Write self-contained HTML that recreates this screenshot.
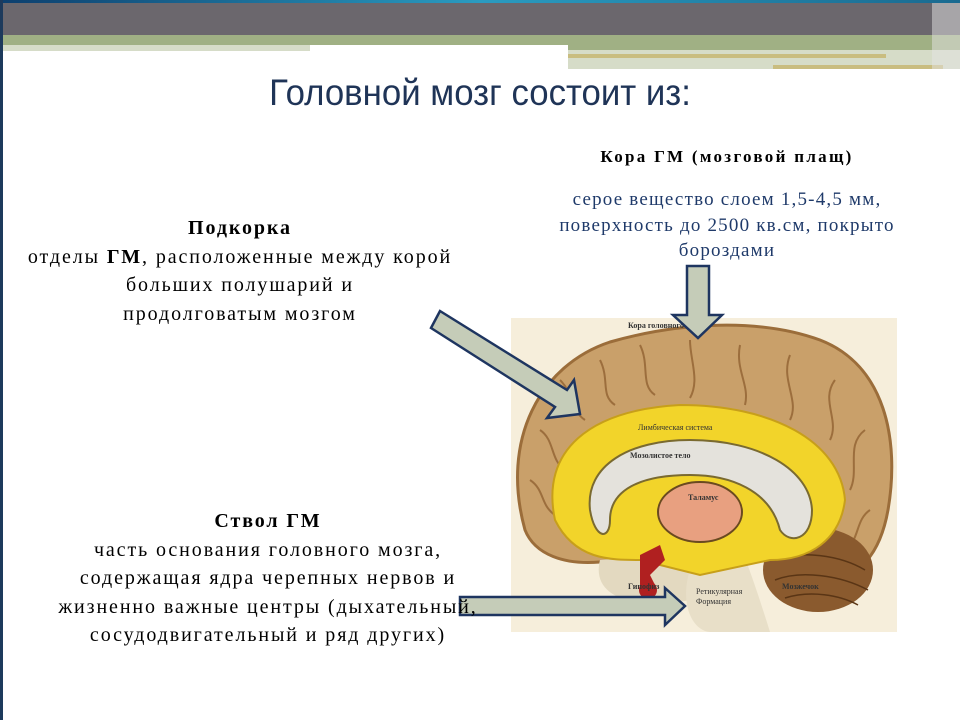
<!DOCTYPE html>
<html><head><meta charset="utf-8"><style>
body{margin:0;width:960px;height:720px;overflow:hidden;background:#fff;position:relative;font-family:"Liberation Serif",serif}
.t{position:absolute;text-align:center;color:#000;font-size:20px;line-height:28.5px;white-space:nowrap;letter-spacing:1.9px}
.b{color:#1f3a6a}
</style></head><body>
<svg width="960" height="720" style="position:absolute;left:0;top:0">
<defs><linearGradient id="tg" x1="0" x2="1"><stop offset="0" stop-color="#0d3f6e"/><stop offset=".5" stop-color="#2a9bc0"/><stop offset="1" stop-color="#1a6a90"/></linearGradient></defs>
<rect x="0" y="0" width="960" height="4" fill="url(#tg)"/>
<rect x="0" y="3" width="960" height="32" fill="#6b676d"/>
<rect x="0" y="35" width="960" height="10" fill="#a0b084"/>
<rect x="0" y="45" width="310" height="6" fill="#d6dcc8"/>
<rect x="568" y="45" width="392" height="24" fill="#d6dcc8"/>
<rect x="568" y="45" width="392" height="5" fill="#a0b084"/>
<rect x="568" y="54" width="318" height="4" fill="#c9bd80"/>
<rect x="773" y="65" width="170" height="4" fill="#c9bd80"/>
<rect x="932" y="3" width="28" height="66" fill="#e4e4e4" opacity=".5"/>
<rect x="0" y="0" width="3" height="720" fill="#1d3a5c"/>
<rect x="511" y="318" width="386" height="314" fill="#f6eedb"/>
<path d="M525 530 C500 440 540 365 610 342 C680 322 760 318 820 340 C885 365 900 440 888 510 C880 555 858 578 830 578 C800 582 770 562 740 548 L600 562 C565 565 535 555 525 530Z" fill="#c9a06a" stroke="#9b6d3a" stroke-width="3"/>
<g fill="none" stroke="#8a5a2a" stroke-width="2" opacity=".7">
<path d="M560 380 C575 395 570 410 585 420"/><path d="M600 360 C610 380 600 395 615 405"/>
<path d="M640 345 C650 365 640 385 655 395"/><path d="M690 340 C690 360 700 380 690 398"/>
<path d="M740 345 C735 370 750 385 745 405"/><path d="M790 355 C780 380 800 400 790 420"/>
<path d="M835 380 C820 400 840 420 830 440"/><path d="M865 430 C845 445 860 470 850 490"/>
<path d="M540 430 C555 440 550 460 565 470"/><path d="M530 480 C545 490 540 505 555 515"/>
<path d="M870 510 C855 520 860 540 845 550"/>
</g>
<ellipse cx="818" cy="570" rx="55" ry="42" fill="#8a5a2e"/>
<g stroke="#5a3515" stroke-width="1.5" fill="none"><path d="M775 560 C800 550 840 555 865 570"/><path d="M775 580 C800 570 840 575 868 590"/><path d="M785 598 C810 590 840 595 858 605"/></g>
<path d="M600 560 C590 600 640 610 690 600 L720 590 L720 550Z" fill="#e3d9c0"/>
<path d="M690 570 C680 600 690 630 710 632 L770 632 C760 600 750 570 740 545Z" fill="#e8dfc8"/>
<path d="M555 520 C540 450 590 410 680 405 C770 405 840 440 845 500 C840 540 810 560 770 560 L700 575 L640 560 C610 560 575 560 555 520Z" fill="#f2d42a" stroke="#c79f1a" stroke-width="2"/>
<path d="M590 510 C585 465 630 440 690 440 C760 440 810 470 812 510 C812 540 790 545 780 530 C770 490 730 475 690 475 C640 475 610 490 610 520 C610 540 595 540 590 510Z" fill="#e4e2dc" stroke="#7a6a30" stroke-width="2"/>
<ellipse cx="700" cy="512" rx="42" ry="30" fill="#e8a080" stroke="#6a4a20" stroke-width="2"/>
<path d="M640 555 L660 545 L665 560 L650 575 L655 585 L640 590Z" fill="#b02020"/>
<circle cx="648" cy="590" r="9" fill="#b02020"/>
<g font-family="Liberation Serif" font-size="8" font-weight="bold" fill="#333">
<text x="628" y="328">Кора головного мозга</text><text x="638" y="430" font-weight="normal">Лимбическая система</text>
<text x="630" y="458">Мозолистое тело</text><text x="688" y="500">Таламус</text>
<text x="628" y="589">Гипофиз</text><text x="696" y="594" font-weight="normal">Ретикулярная</text><text x="696" y="604" font-weight="normal">Формация</text><text x="782" y="589">Мозжечок</text>
</g>
</svg>
<svg width="960" height="720" style="position:absolute;left:0;top:0">
<g fill="#c5ccb8" stroke="#1e3560" stroke-width="2.5" stroke-linejoin="miter">
<path d="M440 311 L567 390 L574 380 L580 414 L547 418 L555 407 L431 328Z"/>
<path d="M687 266 L709 266 L709 315 L722 315 L698 338 L673 315 L687 315Z"/>
<path d="M460 597 L665 597 L665 588 L685 606 L665 625 L665 615 L460 615Z"/>
</g>
</svg>
<div style="position:absolute;left:0;width:960px;top:72px;text-align:center;font-family:'Liberation Sans Narrow','Liberation Sans',sans-serif;font-size:37px;color:#1f3457;transform:scaleX(.94)">Головной мозг состоит из:</div>
<div class="t" style="left:477px;width:500px;top:143px;font-weight:bold;font-size:17px;letter-spacing:2.3px">Кора ГМ (мозговой плащ)</div>
<div class="t b" style="left:477px;width:500px;top:187px;font-size:19px;line-height:25.5px;letter-spacing:1.2px">серое вещество слоем 1,5-4,5 мм,<br>поверхность до 2500 кв.см, покрыто<br>бороздами</div>
<div class="t" style="left:0px;width:480px;top:214px"><b>Подкорка</b><br>отделы <b>ГМ</b>, расположенные между корой<br>больших полушарий и<br>продолговатым мозгом</div>
<div class="t" style="left:8px;width:520px;top:507px"><b>Ствол ГМ</b><br>часть основания головного мозга,<br>содержащая ядра черепных нервов и<br>жизненно важные центры (дыхательный,<br>сосудодвигательный и ряд других)</div>
</body></html>
